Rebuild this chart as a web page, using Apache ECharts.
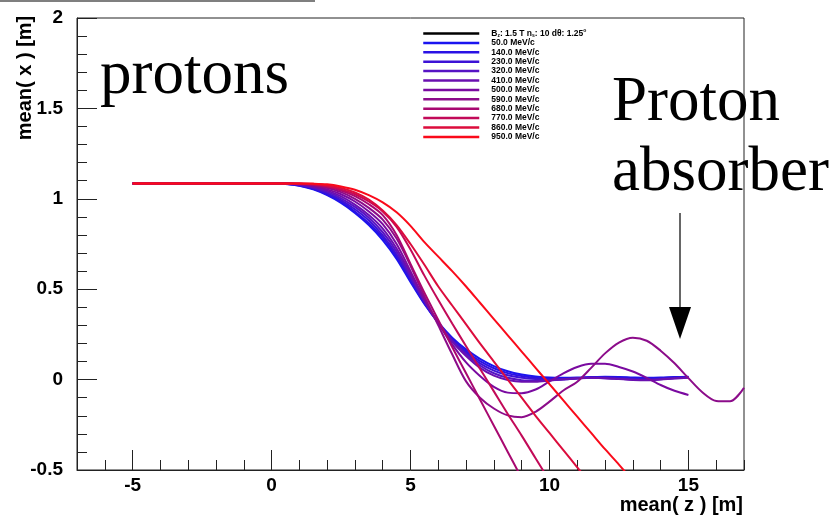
<!DOCTYPE html>
<html>
<head>
<meta charset="utf-8">
<script src="https://cdn.jsdelivr.net/npm/echarts@6/dist/echarts.min.js"></script>
<style>html,body{margin:0;padding:0;background:#fff}#c{width:837px;height:519px}</style>
</head>
<body>
<div id="c"></div>
<script>
// mean(z) grid [m]
const zGrid = [-5, 0, 0.5, 1, 1.5, 2, 2.5, 3, 3.5, 4, 4.5, 5, 5.5, 6, 6.5, 7, 7.5, 8, 8.5, 9, 9.5, 10, 10.5, 11, 11.5, 12, 12.5, 13, 13.5, 14, 14.5, 15];
const zTail = [15.5, 16, 16.5, 17];

const seriesNames = ['50.0 MeV/c','140.0 MeV/c','230.0 MeV/c','320.0 MeV/c','410.0 MeV/c','500.0 MeV/c','590.0 MeV/c','680.0 MeV/c','770.0 MeV/c','860.0 MeV/c','950.0 MeV/c'];
const headerName = 'B_z: 1.5 T n_s: 10 dθ: 1.25°';

const mom50  = [1.085,1.085, 1.082,1.072,1.052,1.02,0.977,0.922,0.855,0.772,0.668,0.54, 0.418,0.316,0.232,0.167,0.115,0.075,0.046,0.028,0.017,0.011, 0.01,0.011,0.014,0.016,0.015,0.012,0.01,0.011,0.014,0.016];
const mom140 = [1.085,1.085, 1.083,1.074,1.055,1.025,0.984,0.93,0.865,0.785,0.68,0.55, 0.422,0.314,0.226,0.157,0.102,0.063,0.036,0.02,0.01,0.005, 0.005,0.008,0.012,0.014,0.012,0.008,0.006,0.008,0.012,0.015];
const mom230 = [1.085,1.085, 1.083,1.075,1.058,1.031,0.993,0.942,0.88,0.798,0.692,0.56, 0.428,0.313,0.219,0.148,0.09,0.05,0.024,0.01,0.003,0.0, 0.002,0.007,0.012,0.012,0.008,0.003,0.002,0.005,0.01,0.014];
const mom320 = [1.085,1.085, 1.084,1.077,1.062,1.038,1.003,0.955,0.895,0.815,0.708,0.572, 0.435,0.315,0.215,0.14,0.078,0.035,0.01,-0.003,-0.006,-0.004, 0.0,0.006,0.01,0.008,0.004,0.0,-0.002,0.002,0.008,0.012];
const mom410 = [1.085,1.085, 1.085,1.079,1.066,1.045,1.013,0.968,0.91,0.835,0.725,0.585, 0.44,0.315,0.21,0.13,0.065,0.022,-0.002,-0.012,-0.012,-0.005, 0.002,0.008,0.01,0.008,0.003,-0.002,-0.004,0.0,0.006,0.01];
const mom500 = [1.085,1.085, 1.085,1.08,1.07,1.052,1.025,0.985,0.93,0.86,0.75,0.6, 0.445,0.31,0.195,0.095,0.02,-0.04,-0.072,-0.075,-0.055,-0.01, 0.035,0.07,0.088,0.088,0.07,0.045,0.01,-0.03,-0.062,-0.085];
const mom590 = [1.085,1.085, 1.085,1.082,1.075,1.06,1.037,1.0,0.95,0.885,0.78,0.63, 0.46,0.3,0.14,-0.01,-0.1,-0.16,-0.198,-0.208,-0.178,-0.122, -0.06,-0.012,0.065,0.145,0.205,0.232,0.215,0.16,0.09,0.008];
const mom590Tail = [-0.07,-0.118,-0.12,-0.045];
const mom680 = [1.085,1.085, 1.085,1.083,1.078,1.066,1.046,1.015,0.97,0.91,0.8,0.64, 0.48,0.33,0.18,0.035,-0.11,-0.255,-0.4,-0.545];
const mom770 = [1.085,1.085, 1.085,1.084,1.08,1.07,1.052,1.025,0.985,0.93,0.845,0.72, 0.575,0.44,0.31,0.185,0.06,-0.065,-0.19,-0.31,-0.435,-0.56];
const mom860 = [1.085,1.085, 1.085,1.085,1.082,1.075,1.06,1.035,0.995,0.935,0.855,0.75, 0.635,0.515,0.41,0.305,0.2,0.1,0.0,-0.1,-0.2,-0.295, -0.39,-0.485,-0.58];
const mom950 = [1.085,1.085, 1.085,1.085,1.084,1.08,1.068,1.05,1.02,0.98,0.925,0.85, 0.76,0.68,0.6,0.515,0.425,0.335,0.245,0.155,0.065,-0.025, -0.115,-0.205,-0.295,-0.385,-0.47,-0.56];

const xMajorTicks = [-5, 0, 5, 10, 15];
const lineColors = ['#1a14f0','#2a12e4','#3c12d6','#5614c4','#6a10b0','#7a0aa0','#8c0c8a','#a80870','#c20a58','#dc0c3c','#fa0a1a'];

function pairs(zs, ys) {
  const out = [];
  for (let i = 0; i < ys.length; i++) { if (ys[i] != null) out.push([zs[i], ys[i]]); }
  return out;
}
const allValues = [mom50, mom140, mom230, mom320, mom410, mom500, mom590, mom680, mom770, mom860, mom950];
const seriesData = allValues.map(v => pairs(zGrid, v));
seriesData[6] = seriesData[6].concat(pairs(zTail, mom590Tail));

const chart = echarts.init(document.getElementById('c'), null, {renderer: 'canvas'});
const SANS = '"Liberation Sans", Arial, Helvetica, sans-serif';
const SERIF = '"Liberation Serif", "Times New Roman", serif';

const series = [{
  name: headerName, type: 'line', data: [], symbol: 'none',
  lineStyle: {color: '#000', width: 2}, itemStyle: {color: '#000'}
}].concat(seriesData.map((d, i) => ({
  name: seriesNames[i], type: 'line', data: d, symbol: 'none', showSymbol: false,
  smooth: 0.3, clip: true,
  lineStyle: {color: lineColors[i], width: 2}, itemStyle: {color: lineColors[i]},
  xAxisIndex: 0, yAxisIndex: 0, animation: false
})));

chart.setOption({
  animation: false,
  backgroundColor: '#fff',
  grid: {left: 77, right: 93, top: 18, bottom: 49, show: true, borderColor: '#222', borderWidth: 1, backgroundColor: 'transparent'},
  legend: {
    left: 422, top: 28, padding: 0, orient: 'vertical', itemWidth: 56, itemHeight: 9, itemGap: 0.4,
    selectedMode: false,
    itemStyle: {opacity: 0},
    lineStyle: {width: 2.5},
    data: [headerName].concat(seriesNames),
    formatter: function (n) {
      if (n === headerName) return '{b|B}{sub|z}{b|: 1.5 T n}{sub|s}{b|: 10 dθ: 1.25}{sup|o}';
      return n;
    },
    textStyle: {
      fontSize: 8.5, fontWeight: 'bold', fontFamily: SANS, color: '#000', padding: [0, 0, 0, 7],
      rich: {
        b: {fontSize: 8.5, fontWeight: 'bold', fontFamily: SANS, color: '#000'},
        sub: {fontSize: 5, fontWeight: 'bold', fontFamily: SANS, color: '#000', padding: [4, 0, 0, 0]},
        sup: {fontSize: 5, fontWeight: 'bold', fontFamily: SANS, color: '#000', padding: [0, 0, 6, 0]}
      }
    }
  },
  xAxis: [{
    type: 'value', min: -7, max: 17, interval: 1, position: 'bottom',
    axisLine: {show: true, onZero: false, lineStyle: {color: '#222', width: 1}},
    axisTick: {show: true, inside: true, length: 10, lineStyle: {color: '#222'}},
    splitLine: {show: false},
    axisLabel: {
      show: true, margin: 6, color: '#000', fontSize: 19, fontWeight: 'bold', fontFamily: SANS,
      formatter: v => (xMajorTicks.indexOf(v) >= 0 ? String(v) : '')
    }
  }, {
    type: 'value', min: -7, max: 17, position: 'bottom',
    axisLine: {show: false, onZero: false},
    axisTick: {show: true, inside: true, length: 20, customValues: xMajorTicks, lineStyle: {color: '#222'}},
    axisLabel: {show: false, customValues: xMajorTicks},
    splitLine: {show: false}
  }],
  yAxis: {
    type: 'value', min: -0.5, max: 2, interval: 0.5,
    axisLine: {show: true, onZero: false, lineStyle: {color: '#222', width: 1}},
    axisTick: {show: true, inside: true, length: 20, lineStyle: {color: '#222'}},
    minorTick: {show: true, splitNumber: 5, length: 10, lineStyle: {color: '#222'}},
    splitLine: {show: false},
    axisLabel: {margin: 14, color: '#000', fontSize: 19, fontWeight: 'bold', fontFamily: SANS}
  },
  series: series,
  graphic: [
    {type: 'line', shape: {x1: 0, y1: 1, x2: 315, y2: 1}, style: {stroke: '#555', lineWidth: 1.5}, silent: true},
    {type: 'text', x: 25, y: 78, rotation: Math.PI / 2,
      style: {text: 'mean( x ) [m]', font: 'bold 20px ' + SANS, fill: '#000', align: 'center', verticalAlign: 'middle'}},
    {type: 'text', x: 743, y: 505,
      style: {text: 'mean( z ) [m]', font: 'bold 20px ' + SANS, fill: '#000', align: 'right', verticalAlign: 'middle'}},
    {type: 'text', x: 100, y: 45,
      style: {text: 'protons', font: '63px ' + SERIF, fill: '#000', align: 'left', verticalAlign: 'top'}},
    {type: 'text', x: 612, y: 72,
      style: {text: 'Proton', font: '63px ' + SERIF, fill: '#000', align: 'left', verticalAlign: 'top'}},
    {type: 'text', x: 612, y: 142,
      style: {text: 'absorber', font: '63px ' + SERIF, fill: '#000', align: 'left', verticalAlign: 'top'}},
    {type: 'line', shape: {x1: 680, y1: 213, x2: 680, y2: 308}, style: {stroke: '#333', lineWidth: 1.5}},
    {type: 'polygon', shape: {points: [[669, 307], [691, 307], [680, 339]]}, style: {fill: '#000'}}
  ]
});
</script>
</body>
</html>
